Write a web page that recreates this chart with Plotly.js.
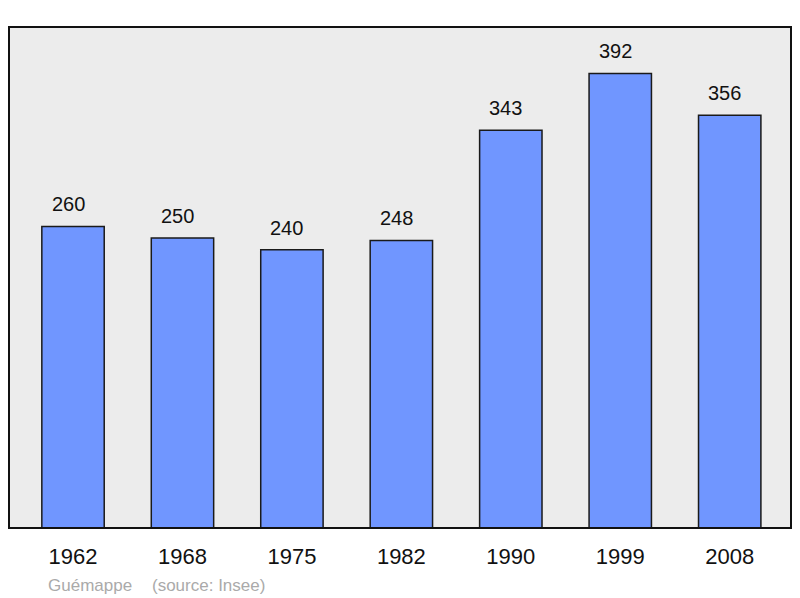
<!DOCTYPE html>
<html>
<head>
<meta charset="utf-8">
<script src="https://cdn.plot.ly/plotly-3.0.1.min.js"></script>
<style>
  html, body { margin: 0; padding: 0; background: #fff; }
  #chart { width: 800px; height: 598px; }
</style>
</head>
<body>
<div id="chart"></div>
<script>
var years = ['1962', '1968', '1975', '1982', '1990', '1999', '2008'];
var population = [260, 250, 240, 248, 343, 392, 356];

var font = 'Liberation Sans, Arial, sans-serif';

var bars = {
    type: 'bar',
    x: years,
    y: population,
    width: 0.57,
    marker: {
        color: '#7096ff',
        line: { color: '#1a1a1a', width: 1.5 }
    },
    hoverinfo: 'none'
};

// value labels sit above each bar, a little left of centre like the original
var labels = population.map(function (v, i) {
    return {
        x: i,
        y: v,
        xref: 'x',
        yref: 'y',
        text: String(v),
        showarrow: false,
        xanchor: 'center',
        yanchor: 'bottom',
        xshift: -5,
        yshift: 9,
        font: { family: font, size: 20, color: '#111' }
    };
});

labels.push({
    xref: 'paper', yref: 'paper',
    x: 0.0473, y: -0.114,
    xanchor: 'left', yanchor: 'middle',
    text: 'Guémappe', showarrow: false,
    font: { family: font, size: 17, color: '#aaaaaa' }
});
labels.push({
    xref: 'paper', yref: 'paper',
    x: 0.180, y: -0.114,
    xanchor: 'left', yanchor: 'middle',
    text: '(source: Insee)', showarrow: false,
    font: { family: font, size: 17, color: '#aaaaaa' }
});

var layout = {
    width: 800,
    height: 598,
    margin: { l: 9, r: 9, t: 27, b: 70 },
    paper_bgcolor: '#ffffff',
    plot_bgcolor: '#ececec',
    showlegend: false,
    xaxis: {
        type: 'category',
        range: [-0.585, 6.56],
        showgrid: false,
        zeroline: false,
        showline: false,
        ticks: '',
        tickfont: { family: font, size: 22, color: '#111' },
        ticklabelstandoff: 13
    },
    yaxis: {
        range: [0, 432],
        showgrid: false,
        zeroline: false,
        showline: false,
        showticklabels: false
    },
    shapes: [{
        type: 'rect',
        xref: 'paper', yref: 'paper',
        x0: 0, x1: 1, y0: 0, y1: 1,
        line: { color: '#111', width: 2 },
        layer: 'above'
    }],
    annotations: labels
};

Plotly.newPlot('chart', [bars], layout, { displayModeBar: false, staticPlot: true });
</script>
</body>
</html>
